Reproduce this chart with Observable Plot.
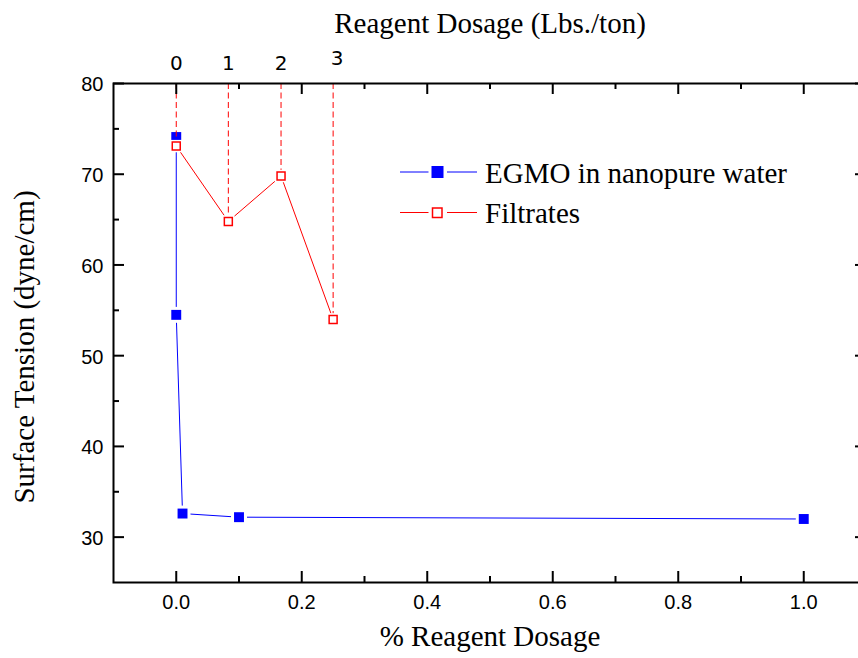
<!DOCTYPE html>
<html><head><meta charset="utf-8">
<script src="https://cdn.jsdelivr.net/npm/d3@7"></script>
<script src="https://cdn.jsdelivr.net/npm/@observablehq/plot@0.6"></script>
<style>
html,body{margin:0;padding:0;background:#fff;}
#wrap{position:relative;width:858px;height:658px;overflow:hidden;background:#fff;}
#legend{position:absolute;left:0;top:0;}
</style></head><body><div id="wrap"></div>
<script>
// ---- data ----
const egmoDosage = [0, 0, 0.01, 0.1, 1.0];
const egmoTension = [74.1, 54.5, 32.6, 32.2, 32.0];
const filtrateDosage = [0, 0.083, 0.167, 0.25];
const filtrateTension = [73.1, 64.8, 69.8, 54.0];
const lbsTonLabels = ["0", "1", "2", "3"];
const seriesNames = ["EGMO in nanopure water", "Filtrates"];
const xMajorTicks = [0, 0.2, 0.4, 0.6, 0.8, 1.0];
const xMinorTicks = [0.1, 0.3, 0.5, 0.7, 0.9];
const yMajorTicks = [30, 40, 50, 60, 70, 80];
const yMinorTicks = [35, 45, 55, 65, 75];
const xDomain = [-0.1, 1.1];
const yDomain = [25, 80];
const xTitle = "% Reagent Dosage";
const xTopTitle = "Reagent Dosage (Lbs./ton)";
const yTitle = "Surface Tension (dyne/cm)";

const egmo = egmoDosage.map((x, i) => ({x, y: egmoTension[i]}));
const filtrates = filtrateDosage.map((x, i) => ({x, y: filtrateTension[i], label: lbsTonLabels[i]}));

const BLUE = "#0000ff", RED = "#ff0000";
const SERIF = "'Liberation Serif','Times New Roman',serif";
const SANS = "'Liberation Sans',Arial,sans-serif";
const TOPFONT = "'DejaVu Sans',sans-serif";

const W = 858, H = 658, mT = 83, mB = 76, mL = 113, mR = -8;
const fw = W - mL - mR, fh = H - mT - mB;
const major = 11, minor = 6;

const plot = Plot.plot({
  width: W, height: H,
  marginTop: mT, marginBottom: mB, marginLeft: mL, marginRight: mR,
  x: {domain: xDomain, axis: null},
  y: {domain: yDomain, axis: null},
  style: {background: "white"},
  marks: [
    // lines
    Plot.line(egmo, {x: "x", y: "y", stroke: BLUE, strokeWidth: 1}),
    Plot.dot(egmo, {x: "x", y: "y", symbol: "square", r: 9, fill: "white", stroke: "none"}),
    Plot.dot(egmo, {x: "x", y: "y", symbol: "square", r: 5.6, fill: BLUE, stroke: "none"}),
    Plot.line(filtrates, {x: "x", y: "y", stroke: RED, strokeWidth: 1}),
    Plot.ruleX(filtrates, {x: "x", y1: () => yDomain[1], y2: "y", stroke: RED, strokeWidth: 1, strokeDasharray: "6,3.5"}),
    Plot.dot(filtrates, {x: "x", y: "y", symbol: "square", r: 7, fill: "white", stroke: "none"}),
    Plot.dot(filtrates, {x: "x", y: "y", symbol: "square", r: 4.5, fill: "white", stroke: RED, strokeWidth: 1.5}),
    // frame
    Plot.frame({stroke: "black", strokeWidth: 2}),
    // ticks (inward)
    Plot.tickX(xMajorTicks, {x: d => d, insetTop: fh - major, stroke: "black", strokeWidth: 2}),
    Plot.tickX(xMinorTicks, {x: d => d, insetTop: fh - minor, stroke: "black", strokeWidth: 2}),
    Plot.tickX(xMajorTicks, {x: d => d, insetBottom: fh - major, stroke: "black", strokeWidth: 2}),
    Plot.tickX(xMinorTicks, {x: d => d, insetBottom: fh - minor, stroke: "black", strokeWidth: 2}),
    Plot.tickY(yMajorTicks, {y: d => d, insetRight: fw - major, stroke: "black", strokeWidth: 2}),
    Plot.tickY(yMinorTicks, {y: d => d, insetRight: fw - minor, stroke: "black", strokeWidth: 2}),
    Plot.tickY(yMajorTicks, {y: d => d, insetLeft: fw - major, stroke: "black", strokeWidth: 2}),
    Plot.tickY(yMinorTicks, {y: d => d, insetLeft: fw - minor, stroke: "black", strokeWidth: 2}),
    // tick labels
    Plot.axisY({ticks: yMajorTicks, tickSize: 0, tickPadding: 10, fontSize: 20, fontFamily: SANS, label: null, dy: 1.5}),
    Plot.axisX({ticks: xMajorTicks, tickFormat: d3.format(".1f"), tickSize: 0, tickPadding: 12, fontSize: 20, fontFamily: SANS, label: null}),
    // top lbs/ton labels
    Plot.text(filtrates.slice(0, 3), {x: "x", text: "label", frameAnchor: "top", dy: -14, lineAnchor: "bottom", fontSize: 20, fontFamily: TOPFONT, fill: "black"}),
    Plot.text(filtrates.slice(3), {x: "x", text: "label", frameAnchor: "top", dx: 4, dy: -19, lineAnchor: "bottom", fontSize: 20, fontFamily: TOPFONT, fill: "black"}),
    // titles
    Plot.text([xTopTitle], {frameAnchor: "top", dy: -51, lineAnchor: "bottom", textAnchor: "middle", fontSize: 29, fontFamily: SERIF, fill: "black"}),
    Plot.text([xTitle], {frameAnchor: "bottom", dy: 63, lineAnchor: "bottom", textAnchor: "middle", fontSize: 29, fontFamily: SERIF, fill: "black"}),
    Plot.text([yTitle], {frameAnchor: "left", dx: -80, dy: 14, rotate: -90, lineAnchor: "bottom", textAnchor: "middle", fontSize: 29, fontFamily: SERIF, fill: "black"})
  ]
});

const wrap = document.getElementById("wrap");
wrap.appendChild(plot);

// legend overlay
const colors = [BLUE, RED];
const legend = d3.create("svg").attr("id", "legend").attr("width", W).attr("height", H);
seriesNames.forEach((name, i) => {
  const cy = 172 + i * 40.5;
  const g = legend.append("g");
  g.append("line").attr("x1", 400).attr("x2", 428.5).attr("y1", cy).attr("y2", cy).attr("stroke", colors[i]).attr("stroke-width", 1);
  g.append("line").attr("x1", 447).attr("x2", 477).attr("y1", cy).attr("y2", cy).attr("stroke", colors[i]).attr("stroke-width", 1);
  if (i === 0) {
    g.append("rect").attr("x", 431.5).attr("y", cy - 6).attr("width", 12).attr("height", 12).attr("fill", BLUE);
  } else {
    g.append("rect").attr("x", 432.5).attr("y", cy - 4.5).attr("width", 9.5).attr("height", 9.5).attr("fill", "white").attr("stroke", RED).attr("stroke-width", 1.5);
  }
  g.append("text").attr("x", 485).attr("y", cy + 10.8).attr("font-family", SERIF).attr("font-size", 29).attr("fill", "black").text(name);
});
wrap.appendChild(legend.node());
</script>
</body></html>
